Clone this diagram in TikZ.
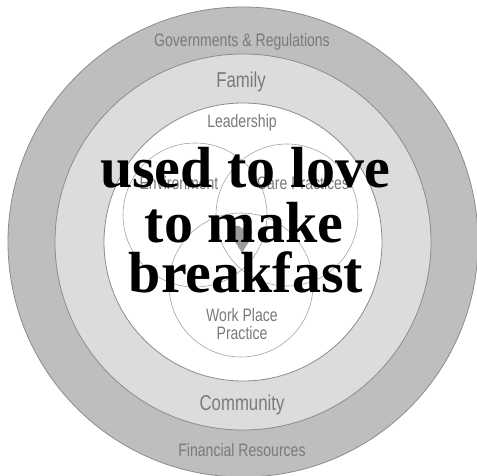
\documentclass[tikz,border=0pt]{standalone}
\usepackage{fontspec}
\setmainfont{Liberation Serif}
\newfontfamily\cond[FakeStretch=0.78]{Liberation Sans}
\definecolor{outerring}{HTML}{BEBEC1}
\definecolor{midring}{HTML}{DCDCDE}
\definecolor{ringline}{HTML}{8C8C8E}
\definecolor{vennline}{HTML}{A4A4A6}
\definecolor{labelgray}{HTML}{7A7A7C}
\definecolor{heartgray}{HTML}{9C9C9E}
\tikzset{
  smalllabel/.style={text=labelgray, font=\cond\fontsize{18}{19}\selectfont, inner sep=0pt},
  biglabel/.style={text=labelgray, font=\cond\fontsize{21.5}{23}\selectfont, inner sep=0pt},
  overlay/.style={text=black, font=\bfseries\fontsize{58}{52}\selectfont, inner sep=0pt, anchor=base},
  ringedge/.style={draw=ringline, line width=0.8pt},
  venn/.style={draw=vennline, line width=0.6pt}
}
\begin{document}
\begin{tikzpicture}[x=1pt,y=-1pt]
\useasboundingbox (0,0) rectangle (477,476);
\fill[white] (0,0) rectangle (477,476);
% rings
\filldraw[fill=outerring, ringedge] (243,242) circle[radius=235pt];
\filldraw[fill=midring, ringedge] (243,242) circle[radius=188pt];
\filldraw[fill=white, ringedge] (243,242) circle[radius=139pt];
% venn circles
\draw[venn] (195,215) circle[radius=72pt];
\draw[venn] (287,215) circle[radius=71pt];
\draw[venn] (241,285) circle[radius=72pt];
% heart
\fill[heartgray] (242,253) .. controls (237,244) and (232,239) .. (232,232)
  .. controls (232,225) and (239,223) .. (242,229)
  .. controls (245,223) and (252,225) .. (252,232)
  .. controls (252,239) and (247,244) .. (242,253);
% labels
\node[smalllabel] (gov) at (242,42) {Governments \& Regulations};
\node[biglabel] (fam) at (241,82) {Family};
\node[smalllabel] (lead) at (242,123) {Leadership};
\node[smalllabel] (env) at (179,183) {Environment};
\node[smalllabel] (care) at (303,183) {Care Practices};
\node[smalllabel, align=center, font=\cond\fontsize{18}{18.5}\selectfont] (work) at (242,324) {Work Place\\Practice};
\node[biglabel] (comm) at (242,405) {Community};
\node[smalllabel] (fin) at (242,450) {Financial Resources};
% overlay text
\node[overlay] (l1) at (245,188) {used to love};
\node[overlay] (l2) at (244,242) {to make};
\node[overlay] (l3) at (246,292) {breakfast};
\end{tikzpicture}
\end{document}
